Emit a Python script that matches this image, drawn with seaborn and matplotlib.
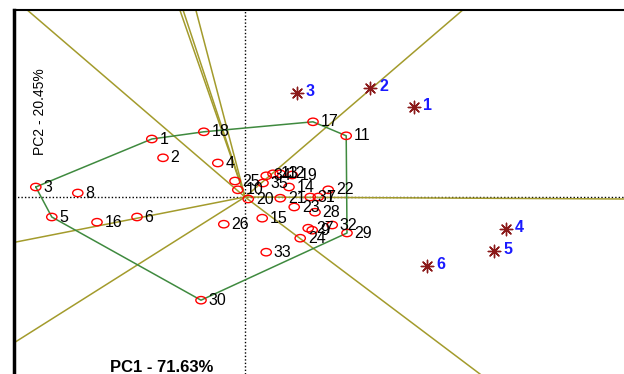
"""
GGE biplot (which-won-where view) of 35 genotypes in 6 environments.
"""

import pandas as pd
import seaborn as sns
import matplotlib.pyplot as plt
from matplotlib.path import Path
from matplotlib.transforms import Affine2D

# genotype scores
geno_id = list(range(1, 36))
geno_pc1 = [-2.33, -2.05, -5.23, -0.68, -4.83, -2.70, 1.83, -4.18, 1.68, -0.18,
            2.53, 0.88, 0.70, 1.10, 0.43, -3.70, 1.70, -1.03, 1.18, 0.08,
            0.88, 2.08, 1.23, 1.38, -0.25, -0.53, 1.58, 1.75, 2.55, -1.10,
            1.63, 2.18, 0.53, 0.53, 0.45]
geno_pc2 = [1.45, 0.98, 0.25, 0.85, -0.50, -0.50, 0.00, 0.10, -0.83, 0.18,
            1.53, 0.58, 0.58, 0.25, -0.53, -0.63, 1.88, 1.63, 0.55, -0.05,
            -0.03, 0.18, -0.25, -1.03, 0.40, -0.68, -0.78, -0.38, -0.90, -2.58,
            0.00, -0.70, -1.38, 0.53, 0.35]

# environment scores
env_id = [1, 2, 3, 4, 5, 6]
env_pc1 = [4.23, 3.13, 1.30, 6.53, 6.23, 4.55]
env_pc2 = [2.25, 2.73, 2.60, -0.80, -1.35, -1.73]

# polygon vertices (genotype ids) and sector ray directions
hull_ids = [3, 1, 18, 17, 11, 29, 30, 5, 3]
ray_pc1 = [-5.45, -1.63, -1.55, -1.23, 5.45, 9.50, 5.88, -5.75, -5.75]
ray_pc2 = [4.68, 4.68, 4.68, 4.68, 4.68, -0.05, -4.43, -3.63, -1.13]

OLIVE = "#a39b2c"
GREEN = "#3f8a3f"


def main():
    sns.set_style("white")
    plt.rcParams['font.family'] = ['Liberation Sans', 'DejaVu Sans']
    plt.rcParams['text.color'] = 'black'

    geno = pd.DataFrame({"id": geno_id, "pc1": geno_pc1, "pc2": geno_pc2})
    env = pd.DataFrame({"id": env_id, "pc1": env_pc1, "pc2": env_pc2})

    fig = plt.figure(figsize=(6.24, 3.74), dpi=100)
    ax = fig.add_axes([14 / 624, 0, 1 - 14 / 624, 1 - 10 / 374])

    # dotted axes through origin
    ax.axhline(0, color="black", ls=(0, (1, 1.5)), lw=1, zorder=1)
    ax.axvline(0, color="black", ls=(0, (1, 1.5)), lw=1, zorder=1)

    # sector rays
    for dx, dy in zip(ray_pc1, ray_pc2):
        ax.plot([0, dx * 3], [0, dy * 3], color=OLIVE, lw=1.1, zorder=2)

    # polygon
    pos = geno.set_index("id")
    ax.plot(pos.loc[hull_ids, "pc1"], pos.loc[hull_ids, "pc2"],
            color=GREEN, lw=1.1, zorder=2)

    # wide open ellipse marker like in the original output
    ellipse = Path.unit_circle().transformed(Affine2D().scale(1.4, 1.0))
    sns.scatterplot(data=geno, x="pc1", y="pc2", ax=ax, marker=ellipse, s=55,
                    facecolor="none", edgecolor="red", linewidth=1, zorder=3)
    sns.scatterplot(data=env, x="pc1", y="pc2", ax=ax, marker=(8, 2, 0),
                    s=80, color="#8b1a1a", edgecolor="#8b1a1a",
                    linewidth=1, zorder=3)

    for _, r in geno.iterrows():
        ax.annotate(str(int(r["id"])), (r["pc1"], r["pc2"]),
                    xytext=(5.5, 0), textcoords="offset points",
                    va="center", ha="left", fontsize=11.5, color="black",
                    zorder=4)
    for _, r in env.iterrows():
        ax.annotate(str(int(r["id"])), (r["pc1"], r["pc2"]),
                    xytext=(6.5, 1), textcoords="offset points",
                    va="center", ha="left", fontsize=11.5, color="#1a1aff",
                    fontweight="bold", zorder=4)

    ax.set_xlim(-5.775, 9.475)
    ax.set_ylim(-4.425, 4.675)
    ax.set_xticks([])
    ax.set_yticks([])
    ax.set_xlabel("")
    ax.set_ylabel("")
    for side in ["right", "bottom"]:
        ax.spines[side].set_visible(False)
    ax.spines["left"].set_linewidth(2.5)
    ax.spines["top"].set_linewidth(1.5)
    ax.spines["left"].set_color("black")
    ax.spines["top"].set_color("black")

    ax.text(162 / 624, 1 - 368 / 374, "PC1 - 71.63%", transform=fig.transFigure,
            ha="center", va="center", fontsize=12, fontweight="bold",
            color="black")
    ax.text(40 / 624, 1 - 112 / 374, "PC2 - 20.45%", transform=fig.transFigure,
            ha="center", va="center", fontsize=10, rotation=90,
            color="black")

    fig.savefig("out.png", dpi=100)


if __name__ == '__main__':
    main()
